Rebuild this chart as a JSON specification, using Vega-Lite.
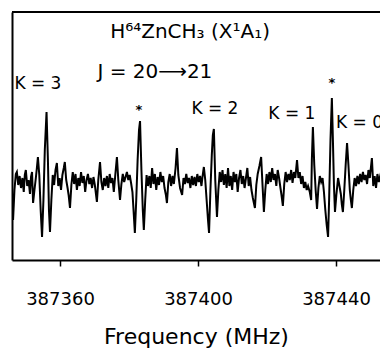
{
  "$schema": "https://vega.github.io/schema/vega-lite/v6.json",
  "width": 368,
  "height": 248,
  "autosize": {"type": "none"},
  "padding": {"left": 12, "top": 12, "right": 0, "bottom": 94},
  "background": "white",
  "config": {"view": {"stroke": null}, "font": "DejaVu Sans"},
  "datasets": {
    "trace": [
      {"f":387346.0,"v":2},{"f":387346.4,"v":-40},{"f":387346.8,"v":-10},{"f":387347.2,"v":6},{"f":387347.5,"v":8},{"f":387347.9,"v":-5},{"f":387348.3,"v":4},{"f":387348.7,"v":-8},{"f":387349.1,"v":2},{"f":387349.5,"v":-12},{"f":387349.8,"v":5},{"f":387350.1,"v":10},{"f":387350.5,"v":-6},{"f":387350.9,"v":0},{"f":387351.3,"v":-14},{"f":387351.6,"v":3},{"f":387351.9,"v":8},{"f":387352.2,"v":-23},{"f":387352.6,"v":-10},{"f":387353.0,"v":2},{"f":387353.3,"v":12},{"f":387353.6,"v":23},{"f":387354.0,"v":5},{"f":387354.4,"v":-30},{"f":387354.8,"v":-57},{"f":387355.2,"v":-20},{"f":387355.6,"v":30},{"f":387356.1,"v":68},{"f":387356.5,"v":20},{"f":387356.8,"v":-30},{"f":387357.1,"v":-52},{"f":387357.5,"v":-20},{"f":387357.9,"v":5},{"f":387358.3,"v":-5},{"f":387358.7,"v":10},{"f":387359.1,"v":17},{"f":387359.5,"v":-6},{"f":387359.9,"v":2},{"f":387360.3,"v":-10},{"f":387360.7,"v":5},{"f":387361.1,"v":12},{"f":387361.4,"v":18},{"f":387361.8,"v":0},{"f":387362.2,"v":-8},{"f":387362.5,"v":-15},{"f":387362.9,"v":-28},{"f":387363.3,"v":-5},{"f":387363.7,"v":8},{"f":387364.1,"v":-4},{"f":387364.5,"v":6},{"f":387364.9,"v":-10},{"f":387365.3,"v":2},{"f":387365.7,"v":-6},{"f":387366.1,"v":8},{"f":387366.5,"v":-3},{"f":387366.9,"v":4},{"f":387367.3,"v":-12},{"f":387367.7,"v":0},{"f":387368.1,"v":6},{"f":387368.5,"v":-4},{"f":387368.9,"v":2},{"f":387369.3,"v":-8},{"f":387369.7,"v":3},{"f":387370.1,"v":-5},{"f":387370.7,"v":-22},{"f":387371.1,"v":0},{"f":387371.6,"v":18},{"f":387372.0,"v":-2},{"f":387372.4,"v":-10},{"f":387372.8,"v":2},{"f":387373.2,"v":-6},{"f":387373.6,"v":4},{"f":387374.0,"v":-8},{"f":387374.4,"v":6},{"f":387374.8,"v":-3},{"f":387375.2,"v":2},{"f":387375.6,"v":-12},{"f":387376.0,"v":4},{"f":387376.5,"v":23},{"f":387376.9,"v":0},{"f":387377.4,"v":-20},{"f":387377.8,"v":-4},{"f":387378.2,"v":6},{"f":387378.6,"v":-2},{"f":387379.0,"v":3},{"f":387379.4,"v":8},{"f":387379.8,"v":0},{"f":387380.2,"v":5},{"f":387380.6,"v":-3},{"f":387381.0,"v":-12},{"f":387381.4,"v":-35},{"f":387381.7,"v":-53},{"f":387382.1,"v":-20},{"f":387382.5,"v":20},{"f":387382.9,"v":50},{"f":387383.2,"v":59},{"f":387383.6,"v":10},{"f":387384.0,"v":-30},{"f":387384.3,"v":-50},{"f":387384.7,"v":-20},{"f":387385.1,"v":5},{"f":387385.5,"v":-6},{"f":387385.9,"v":4},{"f":387386.3,"v":-8},{"f":387386.7,"v":12},{"f":387387.1,"v":-4},{"f":387387.5,"v":6},{"f":387387.9,"v":-10},{"f":387388.3,"v":3},{"f":387388.7,"v":-5},{"f":387389.1,"v":8},{"f":387389.5,"v":-2},{"f":387389.9,"v":4},{"f":387390.3,"v":-8},{"f":387390.7,"v":-15},{"f":387391.0,"v":-23},{"f":387391.4,"v":-2},{"f":387391.8,"v":6},{"f":387392.2,"v":-6},{"f":387392.6,"v":4},{"f":387393.0,"v":-4},{"f":387393.5,"v":12},{"f":387393.9,"v":32},{"f":387394.3,"v":5},{"f":387394.8,"v":-8},{"f":387395.4,"v":-15},{"f":387395.8,"v":2},{"f":387396.2,"v":-4},{"f":387396.6,"v":6},{"f":387397.0,"v":-3},{"f":387397.4,"v":2},{"f":387397.8,"v":-8},{"f":387398.2,"v":4},{"f":387398.6,"v":-5},{"f":387399.0,"v":3},{"f":387399.4,"v":-6},{"f":387399.8,"v":6},{"f":387400.2,"v":-2},{"f":387400.6,"v":4},{"f":387401.0,"v":-6},{"f":387401.3,"v":3},{"f":387401.7,"v":13},{"f":387402.1,"v":0},{"f":387402.5,"v":-20},{"f":387402.9,"v":-40},{"f":387403.2,"v":-53},{"f":387403.6,"v":-10},{"f":387404.0,"v":25},{"f":387404.3,"v":45},{"f":387404.6,"v":51},{"f":387405.0,"v":0},{"f":387405.5,"v":-37},{"f":387405.9,"v":-10},{"f":387406.3,"v":8},{"f":387406.7,"v":-2},{"f":387407.1,"v":10},{"f":387407.5,"v":-5},{"f":387407.9,"v":6},{"f":387408.3,"v":-8},{"f":387408.7,"v":12},{"f":387409.1,"v":-6},{"f":387409.5,"v":4},{"f":387409.9,"v":-10},{"f":387410.3,"v":8},{"f":387410.7,"v":-2},{"f":387411.1,"v":6},{"f":387411.5,"v":-12},{"f":387411.9,"v":2},{"f":387412.3,"v":10},{"f":387412.7,"v":-4},{"f":387413.1,"v":4},{"f":387413.5,"v":-8},{"f":387413.9,"v":2},{"f":387414.3,"v":12},{"f":387414.7,"v":-6},{"f":387415.1,"v":3},{"f":387415.5,"v":-10},{"f":387415.9,"v":-18},{"f":387416.5,"v":-28},{"f":387416.9,"v":-5},{"f":387417.3,"v":6},{"f":387417.8,"v":14},{"f":387418.3,"v":23},{"f":387418.7,"v":-5},{"f":387419.1,"v":-32},{"f":387419.5,"v":-10},{"f":387419.9,"v":6},{"f":387420.3,"v":-4},{"f":387420.7,"v":8},{"f":387421.1,"v":-2},{"f":387421.5,"v":12},{"f":387421.9,"v":0},{"f":387422.3,"v":6},{"f":387422.7,"v":-6},{"f":387423.1,"v":10},{"f":387423.5,"v":2},{"f":387423.9,"v":-8},{"f":387424.2,"v":-15},{"f":387424.6,"v":-26},{"f":387425.0,"v":-4},{"f":387425.4,"v":8},{"f":387425.8,"v":-2},{"f":387426.2,"v":6},{"f":387426.6,"v":0},{"f":387427.0,"v":10},{"f":387427.4,"v":-3},{"f":387427.8,"v":8},{"f":387428.2,"v":2},{"f":387428.7,"v":20},{"f":387429.1,"v":2},{"f":387429.5,"v":8},{"f":387429.9,"v":-4},{"f":387430.3,"v":4},{"f":387430.7,"v":-8},{"f":387431.1,"v":-2},{"f":387431.5,"v":-10},{"f":387431.9,"v":-6},{"f":387432.4,"v":-12},{"f":387432.8,"v":-20},{"f":387433.0,"v":20},{"f":387433.3,"v":53},{"f":387433.7,"v":15},{"f":387434.1,"v":-10},{"f":387434.5,"v":-29},{"f":387434.9,"v":-8},{"f":387435.3,"v":4},{"f":387435.7,"v":-2},{"f":387436.1,"v":2},{"f":387436.5,"v":-12},{"f":387436.9,"v":-30},{"f":387437.3,"v":-45},{"f":387437.7,"v":-57},{"f":387438.0,"v":-20},{"f":387438.4,"v":40},{"f":387438.8,"v":82},{"f":387439.1,"v":40},{"f":387439.4,"v":-5},{"f":387439.7,"v":-32},{"f":387440.1,"v":-15},{"f":387440.6,"v":2},{"f":387441.0,"v":-6},{"f":387441.4,"v":-14},{"f":387441.7,"v":-25},{"f":387442.0,"v":-32},{"f":387442.4,"v":-10},{"f":387442.8,"v":15},{"f":387443.2,"v":37},{"f":387443.6,"v":15},{"f":387444.0,"v":-10},{"f":387444.3,"v":-20},{"f":387444.6,"v":-28},{"f":387445.0,"v":-10},{"f":387445.4,"v":2},{"f":387445.8,"v":-6},{"f":387446.2,"v":4},{"f":387446.6,"v":-4},{"f":387447.0,"v":6},{"f":387447.4,"v":-2},{"f":387447.8,"v":8},{"f":387448.2,"v":0},{"f":387448.6,"v":5},{"f":387449.0,"v":-4},{"f":387449.4,"v":10},{"f":387449.8,"v":2},{"f":387450.4,"v":22},{"f":387450.8,"v":-6},{"f":387451.2,"v":4},{"f":387451.6,"v":-8},{"f":387452.0,"v":6},{"f":387452.4,"v":-2},{"f":387452.8,"v":4},{"f":387453.2,"v":0}
    ],
    "klabels": [
      {"label":"K = 3","f":387353.6,"v":91},
      {"label":"K = 2","f":387404.9,"v":66},
      {"label":"K = 1","f":387427.2,"v":61}
    ],
    "k0": [
      {"label":"K = 0","f":387440.0,"v":52}
    ],
    "stars": [
      {"label":"*","f":387382.9,"v":66},
      {"label":"*","f":387438.8,"v":93}
    ],
    "titles": [
      {"label":"H⁶⁴ZnCH₃ (X¹A₁)","f":387397.7,"v":142},
      {"label":"J = 20⟶21","f":387387.5,"v":102}
    ],
    "frame": [
      {"v": 168}
    ]
  },
  "layer": [
    {
      "data": {"name": "trace"},
      "mark": {"type": "line", "color": "black", "strokeWidth": 2, "clip": true, "interpolate": "linear"},
      "encoding": {
        "x": {
          "field": "f", "type": "quantitative",
          "scale": {"domain": [387346.09, 387452.75], "nice": false, "zero": false},
          "axis": {
            "values": [387360, 387400, 387440],
            "format": "d",
            "grid": false,
            "domainColor": "black", "domainWidth": 2,
            "tickColor": "black", "tickSize": 6, "tickWidth": 1.5,
            "labelFont": "DejaVu Sans", "labelFontSize": 18, "labelColor": "black", "labelPadding": 24,
            "title": "Frequency (MHz)",
            "titleFont": "DejaVu Sans", "titleFontSize": 22, "titleFontWeight": "normal", "titleColor": "black", "titlePadding": 18
          }
        },
        "y": {
          "field": "v", "type": "quantitative",
          "scale": {"domain": [-80, 168], "nice": false, "zero": false},
          "axis": {"grid": false, "ticks": false, "labels": false, "title": null, "domainColor": "black", "domainWidth": 2}
        }
      }
    },
    {
      "data": {"name": "frame"},
      "mark": {"type": "rule", "color": "black", "strokeWidth": 2},
      "encoding": {"y": {"field": "v", "type": "quantitative"}}
    },
    {
      "data": {"name": "klabels"},
      "mark": {"type": "text", "font": "DejaVu Sans", "fontSize": 17, "color": "black", "align": "center", "baseline": "alphabetic"},
      "encoding": {
        "x": {"field": "f", "type": "quantitative"},
        "y": {"field": "v", "type": "quantitative"},
        "text": {"field": "label"}
      }
    },
    {
      "data": {"name": "k0"},
      "mark": {"type": "text", "font": "DejaVu Sans", "fontSize": 17, "color": "black", "align": "left", "baseline": "alphabetic"},
      "encoding": {
        "x": {"field": "f", "type": "quantitative"},
        "y": {"field": "v", "type": "quantitative"},
        "text": {"field": "label"}
      }
    },
    {
      "data": {"name": "stars"},
      "mark": {"type": "text", "font": "DejaVu Sans", "fontSize": 13, "fontWeight": "bold", "color": "black", "align": "center", "baseline": "alphabetic"},
      "encoding": {
        "x": {"field": "f", "type": "quantitative"},
        "y": {"field": "v", "type": "quantitative"},
        "text": {"field": "label"}
      }
    },
    {
      "data": {"name": "titles"},
      "mark": {"type": "text", "font": "DejaVu Sans", "fontSize": 20, "color": "black", "align": "center", "baseline": "alphabetic"},
      "encoding": {
        "x": {"field": "f", "type": "quantitative"},
        "y": {"field": "v", "type": "quantitative"},
        "text": {"field": "label"}
      }
    }
  ]
}
